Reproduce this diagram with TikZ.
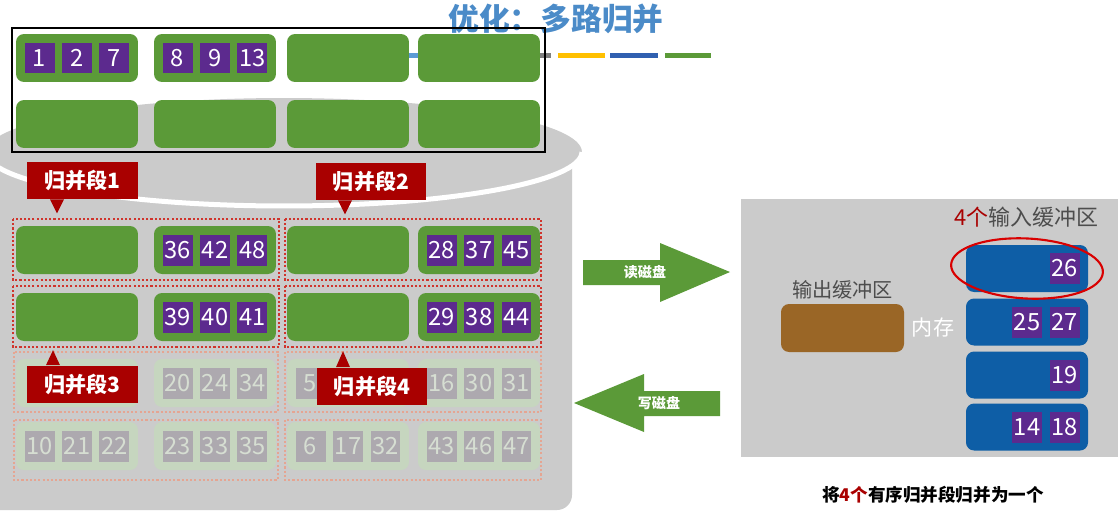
\documentclass[tikz,border=0pt]{standalone}
\usepackage{fontspec}
\setmainfont{Noto Sans CJK SC}
\usepackage{xcolor}
\definecolor{diskgray}{HTML}{CBCBCB}
\definecolor{boxgreen}{HTML}{5B9A38}
\definecolor{keypurple}{HTML}{5C2A8E}
\definecolor{lblred}{HTML}{A90000}
\definecolor{segred}{HTML}{D0342C}
\definecolor{fadeseg}{HTML}{E5A592}
\definecolor{fadegreen}{HTML}{C6D6BF}
\definecolor{fadekey}{HTML}{ADA9AF}
\definecolor{fadetext}{HTML}{D6DED2}
\definecolor{inblue}{HTML}{0E5EA6}
\definecolor{outbrown}{HTML}{9A6626}
\definecolor{titleblue}{HTML}{4B8BC8}
\definecolor{textgray}{HTML}{4D4D4D}
\definecolor{barblue}{HTML}{3060B0}
\definecolor{barsky}{HTML}{5B9BD5}
\definecolor{baryellow}{HTML}{FFC000}

\begin{document}
\begin{tikzpicture}[x=0.02cm,y=-0.02cm,
  blk/.style={fill=boxgreen,rounded corners=0.16cm,minimum width=2.44cm,minimum height=0.96cm,inner sep=0pt},
  fblk/.style={blk,fill=fadegreen},
  inbuf/.style={blk,fill=inblue,minimum height=0.94cm},
  key/.style={fill=keypurple,text=white,minimum width=0.6cm,minimum height=0.62cm,inner sep=0pt,font=\fontsize{13.5}{14}\selectfont},
  fkey/.style={key,fill=fadekey,text=fadetext},
  lbl/.style={fill=lblred,text=white,minimum width=2.22cm,minimum height=0.74cm,inner sep=0pt,font=\fontsize{12}{13}\selectfont\bfseries},
  seg/.style={segred,line width=1.1pt,dash pattern=on 1.2pt off 1.2pt},
  fseg/.style={seg,fadeseg}]
\useasboundingbox (0,0) rectangle (1118,514);
% disk
\fill[diskgray,rounded corners=0.3cm] (-20,152) rectangle (572,510);
\fill[diskgray] (284,152) ellipse [x radius=5.96cm,y radius=1.08cm];
\draw[white,line width=0.1cm] (284,152) ++(180:5.96cm and 1.08cm)
  arc [start angle=180,end angle=360,x radius=5.96cm,y radius=1.08cm];
% coloured bars under the title
\draw[line width=0.1cm,barsky] (380,55) -- (420,55);
\draw[line width=0.1cm,gray] (536,55) -- (551,55);
\draw[line width=0.1cm,baryellow] (558,55) -- (605,55);
\draw[line width=0.1cm,barblue] (610,55) -- (658,55);
\draw[line width=0.1cm,boxgreen] (665,55) -- (711,55);
\node[text=titleblue,font=\fontsize{17.5}{18}\selectfont\bfseries] (title) at (556,19) {优化：多路归并};
% merge segments
\draw[seg] (13,219) rectangle (279,280);
\draw[seg] (285,219) rectangle (541,280);
\draw[seg] (13,286) rectangle (279,347);
\draw[seg] (285,286) rectangle (541,347);
\draw[fseg] (14,352) rectangle (278,412);
\draw[fseg] (285,352) rectangle (541,412);
\draw[fseg] (14,420) rectangle (278,480);
\draw[fseg] (285,420) rectangle (541,480);
% blocks
\foreach \r/\y in {1/58,2/124,3/250,4/317}
  \foreach \c/\x in {1/77,2/215,3/348,4/479}
    \node[blk] (r\r b\c) at (\x,\y) {};
\foreach \r/\y in {5/383,6/446}
  \foreach \c/\x in {1/77,2/215,3/348,4/479}
    \node[fblk] (r\r b\c) at (\x,\y) {};
\foreach \b/\p/\n in {r1b1/-1/1,r1b1/0/2,r1b1/1/7,r1b2/-1/8,r1b2/0/9,r1b2/1/13,
    r3b2/-1/36,r3b2/0/42,r3b2/1/48,r3b4/-1/28,r3b4/0/37,r3b4/1/45,
    r4b2/-1/39,r4b2/0/40,r4b2/1/41,r4b4/-1/29,r4b4/0/38,r4b4/1/44}
  \node[key,xshift=\p*0.75cm] (k\n) at (\b) {\n};
\foreach \b/\p/\n in {r5b2/-1/20,r5b2/0/24,r5b2/1/34,r5b3/-1/5,r5b4/-1/16,r5b4/0/30,r5b4/1/31,
    r6b1/-1/10,r6b1/0/21,r6b1/1/22,r6b2/-1/23,r6b2/0/33,r6b2/1/35,
    r6b3/-1/6,r6b3/0/17,r6b3/1/32,r6b4/-1/43,r6b4/0/46,r6b4/1/47}
  \node[fkey,xshift=\p*0.75cm] (k\n) at (\b) {\n};
\draw[line width=1.3pt] (12,28) rectangle (545,152);
% segment labels
\node[lbl] (m1) at (82.5,180.5) {归并段1};
\fill[lblred] ([xshift=-0.65cm]m1.south) -- ([xshift=-0.37cm]m1.south) -- ([xshift=-0.51cm,yshift=-0.28cm]m1.south) -- cycle;
\node[lbl] (m2) at (371,181.5) {归并段2};
\fill[lblred] ([xshift=-0.66cm]m2.south) -- ([xshift=-0.38cm]m2.south) -- ([xshift=-0.52cm,yshift=-0.28cm]m2.south) -- cycle;
\node[lbl] (m3) at (82.5,384) {归并段3};
\fill[lblred] ([xshift=-0.73cm]m3.north) -- ([xshift=-0.45cm]m3.north) -- ([xshift=-0.59cm,yshift=0.3cm]m3.north) -- cycle;
\node[lbl] (m4) at (372,386) {归并段4};
\fill[lblred] ([xshift=-0.72cm]m4.north) -- ([xshift=-0.44cm]m4.north) -- ([xshift=-0.58cm,yshift=0.32cm]m4.north) -- cycle;
% read / write arrows
\fill[boxgreen] (583,260) -- (660,260) -- (660,243) -- (730,272) -- (660,302) -- (660,285) -- (583,285) -- cycle;
\node[text=white,font=\fontsize{8}{9}\selectfont\bfseries] (rd) at (645,272) {读磁盘};
\fill[boxgreen] (574,403) -- (644,374) -- (644,391) -- (720,391) -- (720,416) -- (644,416) -- (644,432) -- cycle;
\node[text=white,font=\fontsize{8}{9}\selectfont\bfseries] (wr) at (659,403) {写磁盘};
% memory
\fill[diskgray] (741,199) rectangle (1118,457);
\node[text=textgray,font=\fontsize{12.5}{13}\selectfont] (inlbl) at (1026,217) {\textcolor{lblred}{4个}输入缓冲区};
\foreach \i/\y in {1/268.5,2/322,3/375,4/427}
  \node[inbuf] (i\i) at (1027,\y) {};
\foreach \b/\p/\n in {i1/1/26,i2/0/25,i2/1/27,i3/1/19,i4/0/14,i4/1/18}
  \node[key,xshift=\p*0.75cm] (k\n) at (\b) {\n};
\draw[red!85!black,line width=1.2pt] (i1) ellipse [x radius=1.52cm,y radius=0.6cm,rotate=-3];
\node[text=textgray,font=\fontsize{11.5}{12}\selectfont] (oblbl) at (842.5,290) {输出缓冲区};
\node[blk,fill=outbrown,minimum width=2.46cm] (ob) at (842.5,328) {};
\node[text=white,font=\fontsize{12}{13}\selectfont] (mem) at (933,328) {内存};
\node[font=\fontsize{10}{11}\selectfont\bfseries] (note) at (933,495) {将\textcolor{lblred}{4个}有序归并段归并为一个};
\end{tikzpicture}
\end{document}
